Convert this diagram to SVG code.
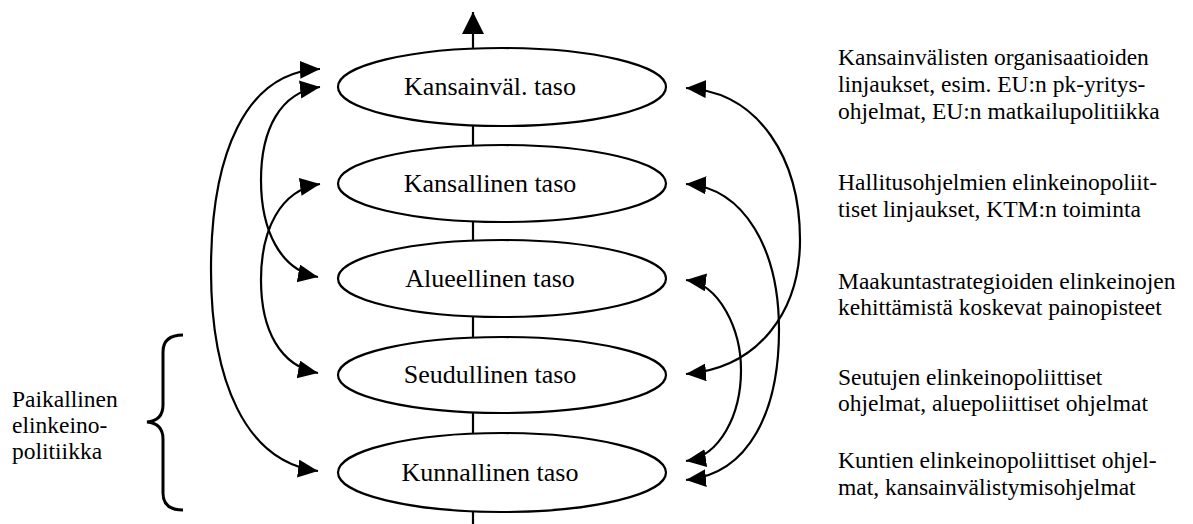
<svg xmlns="http://www.w3.org/2000/svg" width="1193" height="524" viewBox="0 0 1193 524">
<defs>
<style>
.lvl{fill:#fff;stroke:#000;stroke-width:2.2}
.lbl{font-family:'Liberation Serif','Times New Roman',Times,Tinos,'DejaVu Serif',serif;font-size:26px;fill:#000;text-anchor:middle}
.side{font-family:'Liberation Serif','Times New Roman',Times,Tinos,'DejaVu Serif',serif;font-size:23.5px;fill:#000}
.arc{fill:none;stroke:#000;stroke-width:2.2;marker-start:url(#ah);marker-end:url(#ah)}
.vl{stroke:#000;stroke-width:2.2}
</style>
<marker id="ah" markerUnits="userSpaceOnUse" markerWidth="22" markerHeight="20" refX="20" refY="9" orient="auto-start-reverse" viewBox="0 0 22 20">
<path d="M0,0 L20,9 L0,18 z" fill="#000"/>
</marker>
<marker id="up" markerUnits="userSpaceOnUse" markerWidth="24" markerHeight="24" refX="22" refY="11" orient="auto" viewBox="0 0 24 24">
<path d="M0,0 L22,11 L0,22 z" fill="#000"/>
</marker>
</defs>

<g id="connectors">
<line class="vl" x1="473" y1="68" x2="473" y2="12" marker-end="url(#up)"/>
<line class="vl" x1="473" y1="126" x2="473" y2="163"/>
<line class="vl" x1="473" y1="222" x2="473" y2="260"/>
<line class="vl" x1="473" y1="317" x2="473" y2="357"/>
<line class="vl" x1="473" y1="413" x2="473" y2="453"/>
<line class="vl" x1="473" y1="512" x2="473" y2="524"/>
<path class="arc" d="M320,69 C245,72 211,155 211,270 C211,380 245,462 318,471"/>
<path class="arc" d="M320,87 C280,92 261,130 261,180 C261,230 280,270 318,277"/>
<path class="arc" d="M320,184 C280,190 261,230 261,280 C261,330 280,366 318,373"/>
<path class="arc" d="M686,88 C760,92 800,160 800,240 C800,310 760,368 686,374"/>
<path class="arc" d="M686,184 C745,188 779,250 779,330 C779,410 750,474 686,480"/>
<path class="arc" d="M686,280 C720,284 741,330 741,370 C741,415 720,456 686,461"/>
</g>

<g id="n1">
<ellipse class="lvl" cx="502" cy="87" rx="164" ry="39"/>
<text class="lbl" x="490" y="95">Kansainväl. taso</text>
</g>
<g id="n2">
<ellipse class="lvl" cx="502" cy="183.5" rx="164" ry="38.5"/>
<text class="lbl" x="490" y="192">Kansallinen taso</text>
</g>
<g id="n3">
<ellipse class="lvl" cx="502" cy="278.5" rx="164" ry="38.5"/>
<text class="lbl" x="490" y="287">Alueellinen taso</text>
</g>
<g id="n4">
<ellipse class="lvl" cx="502" cy="375" rx="164" ry="38"/>
<text class="lbl" x="490" y="383">Seudullinen taso</text>
</g>
<g id="n5">
<ellipse class="lvl" cx="502" cy="472.5" rx="164" ry="39.5"/>
<text class="lbl" x="490" y="481">Kunnallinen taso</text>
</g>

<g id="brace">
<path d="M183,335 C170,335 163,340 163,352 L163,405 C163,415 158,421 147,422 C158,423 163,429 163,439 L163,493 C163,505 170,510 183,510" fill="none" stroke="#000" stroke-width="3"/>
<text class="side" x="12" y="407">Paikallinen</text>
<text class="side" x="12" y="433">elinkeino-</text>
<text class="side" x="12" y="459">politiikka</text>
</g>

<g id="desc">
<text class="side" x="838" y="65">Kansainvälisten organisaatioiden</text>
<text class="side" x="838" y="92">linjaukset, esim. EU:n pk-yritys-</text>
<text class="side" x="838" y="119">ohjelmat, EU:n matkailupolitiikka</text>
<text class="side" x="838" y="190">Hallitusohjelmien elinkeinopoliit-</text>
<text class="side" x="838" y="217">tiset linjaukset, KTM:n toiminta</text>
<text class="side" x="838" y="289">Maakuntastrategioiden elinkeinojen</text>
<text class="side" x="838" y="315">kehittämistä koskevat painopisteet</text>
<text class="side" x="838" y="385">Seutujen elinkeinopoliittiset</text>
<text class="side" x="838" y="411">ohjelmat, aluepoliittiset ohjelmat</text>
<text class="side" x="838" y="468">Kuntien elinkeinopoliittiset ohjel-</text>
<text class="side" x="838" y="495">mat,  kansainvälistymisohjelmat</text>
</g>
</svg>
